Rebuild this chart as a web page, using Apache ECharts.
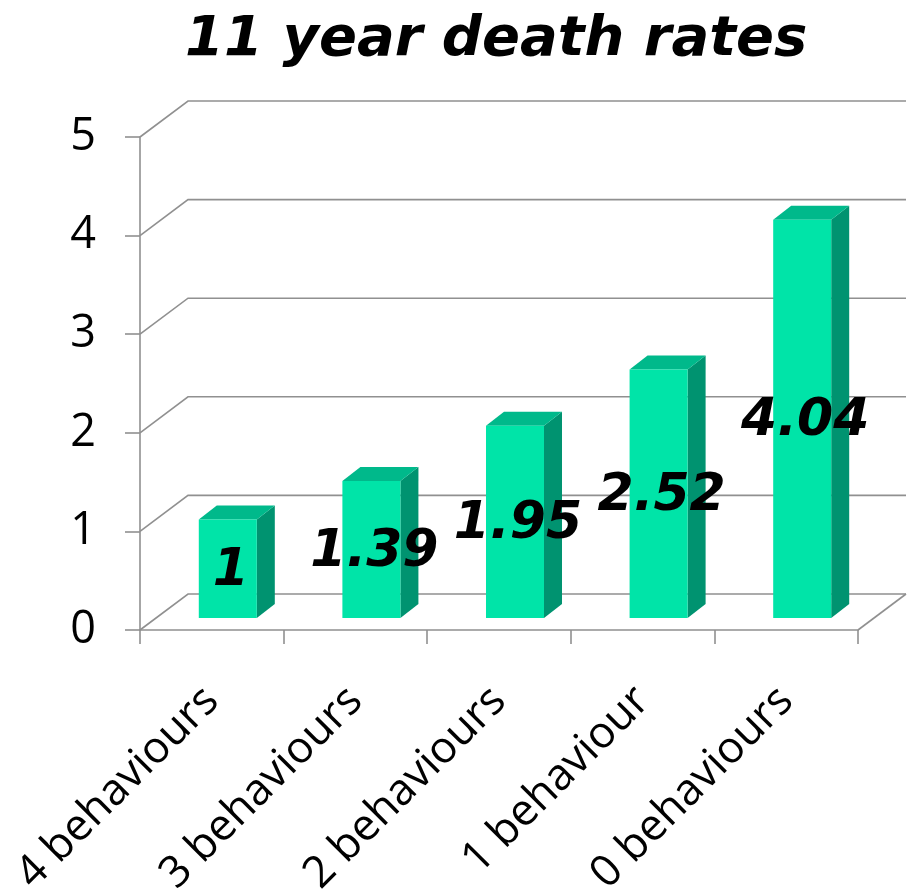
<!DOCTYPE html>
<html>
<head>
<meta charset="utf-8">
<script src="https://cdn.jsdelivr.net/npm/echarts@6/dist/echarts.min.js"></script>
<style>
  html, body { margin: 0; padding: 0; background: #fff; }
  #chart { width: 910px; height: 890px; }
</style>
</head>
<body>
<div id="chart"></div>
<script>
const titleText = '11 year death rates';
const categories = ['4 behaviours', '3 behaviours', '2 behaviours', '1 behaviour', '0 behaviours'];
const deathRates = [1, 1.39, 1.95, 2.52, 4.04];
const valueLabels = ['1', '1.39', '1.95', '2.52', '4.04'];
const yTicks = [0, 1, 2, 3, 4, 5];

const GRID_COLOR = '#909090';
const FRONT = '#00E4A8';
const TOP = '#00B98B';
const SIDE = '#009370';
const WALL_DX = 48, WALL_DY = -36;

const chart = echarts.init(document.getElementById('chart'), null, { renderer: 'canvas' });

function renderWall(params, api) {
  const cs = params.coordSys;
  const v = api.value(1);
  const y = api.coord([0, v])[1];
  const x0 = cs.x, x1 = cs.x + cs.width;
  const style = { stroke: GRID_COLOR, lineWidth: 1.6, fill: null };
  const children = [{
    type: 'polyline',
    shape: { points: [[x0, y], [x0 + WALL_DX, y + WALL_DY], [x1 + WALL_DX, y + WALL_DY]] },
    style: style
  }];
  if (v === 0) {
    children.push({
      type: 'line',
      shape: { x1: x1, y1: y, x2: x1 + WALL_DX, y2: y + WALL_DY },
      style: style
    });
  }
  return { type: 'group', children: children };
}

function renderBar(params, api) {
  const i = api.value(0);
  const v = api.value(1);
  const base = api.coord([i, 0]);
  const top = api.coord([i, v]);
  const bw = api.size([1, 0])[0] * 0.404;
  const ox = 16, oy = -12, dx = 18, dy = -14;
  const cx = base[0] + ox;
  const xl = cx - bw / 2, xr = cx + bw / 2;
  const yb = base[1] + oy, yt = top[1] + oy;
  return {
    type: 'group',
    children: [
      { type: 'polygon', shape: { points: [[xr, yb], [xr, yt], [xr + dx, yt + dy], [xr + dx, yb + dy]] }, style: { fill: SIDE } },
      { type: 'polygon', shape: { points: [[xl, yt], [xr, yt], [xr + dx, yt + dy], [xl + dx, yt + dy]] }, style: { fill: TOP } },
      { type: 'rect', shape: { x: xl, y: yt, width: bw, height: yb - yt }, style: { fill: FRONT } },
      { type: 'text', style: {
          text: valueLabels[params.dataIndex],
          x: cx + 3, y: (yt + yb) / 2 + 3,
          align: 'center', verticalAlign: 'middle',
          fill: '#000',
          fontFamily: 'DejaVu Sans', fontWeight: 'bold', fontStyle: 'italic', fontSize: 52
        }, z2: 10 }
    ]
  };
}

chart.setOption({
  animation: false,
  backgroundColor: '#fff',
  title: {
    text: titleText,
    left: 180, top: 7,
    textStyle: { fontFamily: 'DejaVu Sans', fontWeight: 'bold', fontStyle: 'italic', fontSize: 56, color: '#000' }
  },
  grid: { left: 140, right: 52, top: 137, bottom: 260, containLabel: false, outerBoundsMode: 'none' },
  xAxis: {
    type: 'category',
    data: categories,
    axisLine: { show: true, lineStyle: { color: GRID_COLOR, width: 1.6 } },
    axisTick: { show: true, length: 14, lineStyle: { color: GRID_COLOR, width: 1.6 } },
    axisLabel: { rotate: 45, margin: 64, fontFamily: 'Open Sans', fontSize: 44, color: '#000', interval: 0 },
    splitLine: { show: false }
  },
  yAxis: {
    type: 'value', min: 0, max: 5, interval: 1,
    axisLine: { show: true, lineStyle: { color: GRID_COLOR, width: 1.6 } },
    axisTick: { show: true, length: 15, lineStyle: { color: GRID_COLOR, width: 1.6 } },
    axisLabel: { margin: 44, fontFamily: 'Open Sans', fontSize: 45, color: '#000' },
    splitLine: { show: false }
  },
  series: [
    {
      type: 'custom', name: 'wall', renderItem: renderWall, z: 1, clip: false,
      data: yTicks.map(v => [0, v]), silent: true
    },
    {
      type: 'custom', name: 'rates', renderItem: renderBar, z: 3, clip: false,
      data: deathRates.map((v, i) => [i, v])
    }
  ]
});
</script>
</body>
</html>
